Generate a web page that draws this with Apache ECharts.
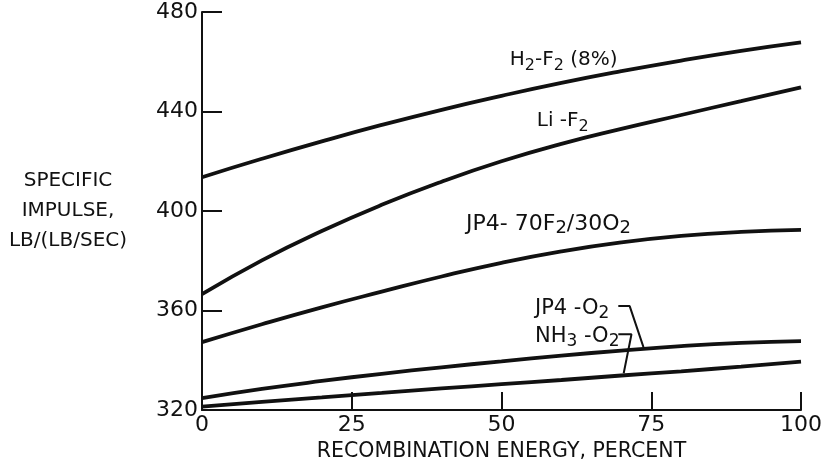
<!DOCTYPE html>
<html>
<head>
<meta charset="utf-8">
<script src="https://cdn.jsdelivr.net/npm/echarts@6/dist/echarts.min.js"></script>
<style>
  html, body { margin: 0; padding: 0; background: #fff; }
  #chart { width: 825px; height: 467px; }
</style>
</head>
<body>
<div id="chart"></div>
<script>
// Recombination energy (percent) at which each curve is sampled
const percent = [0, 10, 20, 30, 40, 50, 60, 70, 80, 90, 100];

// Specific impulse, lb/(lb/sec), for each propellant combination
const h2f2    = [413.6, 421.0, 428.0, 434.6, 440.7, 446.3, 451.5, 456.2, 460.5, 464.4, 467.8];
const lif2    = [366.6, 380.2, 392.0, 402.5, 411.8, 420.0, 427.0, 433.0, 438.6, 444.2, 449.7];
const jp4f2o2 = [347.3, 354.5, 361.3, 367.6, 373.7, 379.2, 383.8, 387.4, 390.0, 391.6, 392.4];
const jp4o2   = [324.8, 328.5, 331.7, 334.6, 337.2, 339.6, 341.9, 343.9, 345.7, 347.0, 347.7];
const nh3o2   = [321.4, 323.3, 325.1, 326.9, 328.7, 330.4, 332.1, 333.9, 335.6, 337.5, 339.5];

// Axis ticks
const xTicks = [0, 25, 50, 75, 100];
const yTicks = [320, 360, 400, 440, 480];

// Curve annotations: rich-text label and its anchor (percent, impulse)
const curveLabels = [
  { text: '{m|H}{s|2}{m|-F}{s|2}{m| (8%)}',        at: [51.3, 459.8], size: 20 },
  { text: '{m|Li -F}{s|2}',                        at: [55.8, 435.5], size: 20 },
  { text: '{m|JP4- 70F}{s|2}{m|/30O}{s|2}',        at: [44.0, 394.1], size: 22 },
  { text: '{m|JP4 -O}{s|2}',                       at: [55.5, 360.4], size: 21 },
  { text: '{m|NH}{s|3}{m| -O}{s|2}',               at: [55.5, 349.1], size: 21 }
];

// Leader lines tying the two lower labels to their curves
const leaderJp4o2 = [[69.5, 361.8], [71.4, 361.8], [73.7, 345.3]];
const leaderNh3o2 = [[69.5, 350.5], [71.7, 350.5], [70.4, 334.8]];

const FONT = 'DejaVu Sans';
const INK = '#111';

function pairs(ys) { return percent.map((x, i) => [x, ys[i]]); }

function curve(name, ys) {
  return {
    name: name, type: 'line', data: pairs(ys), smooth: true,
    showSymbol: false, symbol: 'none',
    lineStyle: { color: INK, width: 3.8 }, z: 3
  };
}

function leader(data) {
  return {
    type: 'line', data: data, showSymbol: false, symbol: 'none',
    lineStyle: { color: INK, width: 2 }, z: 3
  };
}

// Main text sits at the top of each line, subscripts drop to its bottom
const labelPoints = curveLabels.map(l => ({
  coord: l.at,
  symbol: 'circle', symbolSize: 1,
  itemStyle: { color: 'transparent' },
  label: {
    show: true, position: 'right', distance: 0,
    formatter: l.text, color: INK, fontFamily: FONT,
    rich: {
      m: { fontSize: l.size, lineHeight: 24, verticalAlign: 'top', fontFamily: FONT, color: INK },
      s: { fontSize: Math.round(l.size * 0.8), lineHeight: 24, verticalAlign: 'bottom', fontFamily: FONT, color: INK }
    }
  }
}));

const chart = echarts.init(document.getElementById('chart'), null, { renderer: 'canvas' });

chart.setOption({
  animation: false,
  backgroundColor: '#fff',
  grid: { left: 202, right: 19, top: 12, bottom: 56, containLabel: false },
  xAxis: {
    type: 'value', min: xTicks[0], max: xTicks[xTicks.length - 1], interval: 25,
    name: 'RECOMBINATION ENERGY, PERCENT', nameLocation: 'middle', nameGap: 29,
    nameTextStyle: { fontFamily: FONT, fontSize: 20.5, color: INK },
    axisLine: { lineStyle: { color: INK, width: 2 } },
    axisTick: { inside: true, length: 18, lineStyle: { color: INK, width: 2 } },
    axisLabel: { fontFamily: FONT, fontSize: 22, color: INK, margin: 4 },
    splitLine: { show: false }
  },
  yAxis: {
    type: 'value', min: yTicks[0], max: yTicks[yTicks.length - 1], interval: 40,
    name: 'SPECIFIC\nIMPULSE,\nLB/(LB/SEC)', nameLocation: 'middle', nameRotate: 0, nameGap: 134,
    nameTextStyle: { fontFamily: FONT, fontSize: 20, lineHeight: 30, color: INK, align: 'center', verticalAlign: 'middle' },
    axisLine: { lineStyle: { color: INK, width: 2 } },
    axisTick: { inside: true, length: 20, lineStyle: { color: INK, width: 2 } },
    axisLabel: { fontFamily: FONT, fontSize: 22, color: INK, margin: 4 },
    splitLine: { show: false }
  },
  series: [
    Object.assign(curve('H2-F2 (8%)', h2f2), { markPoint: { data: labelPoints, animation: false } }),
    curve('Li-F2', lif2),
    curve('JP4-70F2/30O2', jp4f2o2),
    curve('JP4-O2', jp4o2),
    curve('NH3-O2', nh3o2),
    leader(leaderJp4o2),
    leader(leaderNh3o2)
  ]
});
</script>
</body>
</html>
